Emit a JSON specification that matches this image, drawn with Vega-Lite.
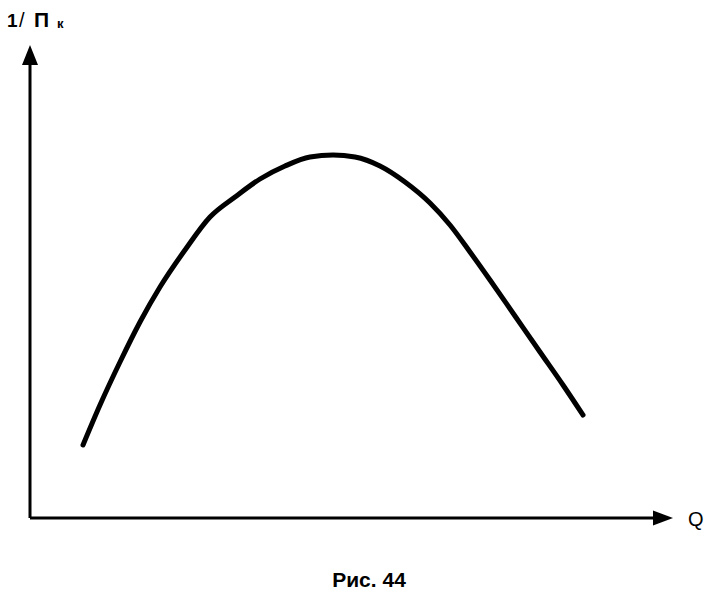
{
  "$schema": "https://vega.github.io/schema/vega-lite/v6.json",
  "width": 716,
  "height": 595,
  "autosize": {"type": "fit", "contains": "padding"},
  "padding": 0,
  "background": "white",
  "config": {"view": {"stroke": null}},
  "datasets": {
    "curve": [
      {"Q": 53, "V": 73}, {"Q": 70, "V": 113}, {"Q": 90, "V": 156}, {"Q": 110, "V": 196},
      {"Q": 130, "V": 231}, {"Q": 155, "V": 268}, {"Q": 180, "V": 301}, {"Q": 205, "V": 321},
      {"Q": 230, "V": 339}, {"Q": 255, "V": 352}, {"Q": 280, "V": 361}, {"Q": 303, "V": 363},
      {"Q": 325, "V": 361}, {"Q": 350, "V": 352}, {"Q": 375, "V": 336}, {"Q": 400, "V": 315},
      {"Q": 420, "V": 293}, {"Q": 440, "V": 266}, {"Q": 460, "V": 238}, {"Q": 485, "V": 202},
      {"Q": 510, "V": 166}, {"Q": 533, "V": 133}, {"Q": 553, "V": 103}
    ],
    "yaxis": [{"Q": 0, "V": 0}, {"Q": 0, "V": 458}],
    "xaxis": [{"Q": 0, "V": 0}, {"Q": 632, "V": 0}],
    "yarrow": [{"Q": 0, "V": 463}],
    "xarrow": [{"Q": 633, "V": 0}],
    "yone": [{"Q": -23, "V": 491, "t": "1"}],
    "yslash": [{"Q": -11, "V": 491, "t": "/"}],
    "ypi": [{"Q": 4, "V": 491, "t": "П"}],
    "ysub": [{"Q": 27, "V": 490, "t": "к"}],
    "xlabel": [{"Q": 658, "V": -2, "t": "Q"}],
    "caption": [{"Q": 339, "V": -69, "t": "Рис. 44"}]
  },
  "encoding": {
    "x": {"field": "Q", "type": "quantitative", "axis": null, "scale": {"domain": [-30, 686], "nice": false, "zero": false}},
    "y": {"field": "V", "type": "quantitative", "axis": null, "scale": {"domain": [-77, 518], "nice": false, "zero": false}}
  },
  "layer": [
    {"data": {"name": "yaxis"}, "mark": {"type": "line", "color": "black", "strokeWidth": 3}},
    {"data": {"name": "xaxis"}, "mark": {"type": "line", "color": "black", "strokeWidth": 3}},
    {"data": {"name": "yarrow"}, "mark": {"type": "point", "filled": true, "color": "black", "opacity": 1, "size": 400, "shape": "M0,-1L0.8,1L-0.8,1Z"}},
    {"data": {"name": "xarrow"}, "mark": {"type": "point", "filled": true, "color": "black", "opacity": 1, "size": 400, "shape": "M1,0L-1,-0.75L-1,0.75Z"}},
    {"data": {"name": "curve"}, "mark": {"type": "line", "color": "black", "strokeWidth": 5, "interpolate": "monotone", "strokeCap": "round"}},
    {"data": {"name": "yone"}, "mark": {"type": "text", "align": "left", "baseline": "alphabetic", "font": "Liberation Sans", "fontSize": 19, "fontWeight": "bold", "color": "black"}, "encoding": {"text": {"field": "t"}}},
    {"data": {"name": "yslash"}, "mark": {"type": "text", "align": "left", "baseline": "alphabetic", "font": "Liberation Sans", "fontSize": 20, "color": "black"}, "encoding": {"text": {"field": "t"}}},
    {"data": {"name": "ypi"}, "mark": {"type": "text", "align": "left", "baseline": "alphabetic", "font": "Liberation Sans", "fontSize": 21, "fontWeight": "bold", "color": "black"}, "encoding": {"text": {"field": "t"}}},
    {"data": {"name": "ysub"}, "mark": {"type": "text", "align": "left", "baseline": "alphabetic", "font": "Liberation Sans", "fontSize": 13, "fontWeight": "bold", "color": "black"}, "encoding": {"text": {"field": "t"}}},
    {"data": {"name": "xlabel"}, "mark": {"type": "text", "align": "left", "baseline": "middle", "font": "Liberation Sans", "fontSize": 20, "color": "black"}, "encoding": {"text": {"field": "t"}}},
    {"data": {"name": "caption"}, "mark": {"type": "text", "align": "center", "baseline": "alphabetic", "font": "Liberation Sans", "fontSize": 21, "fontWeight": "bold", "color": "black"}, "encoding": {"text": {"field": "t"}}}
  ]
}
